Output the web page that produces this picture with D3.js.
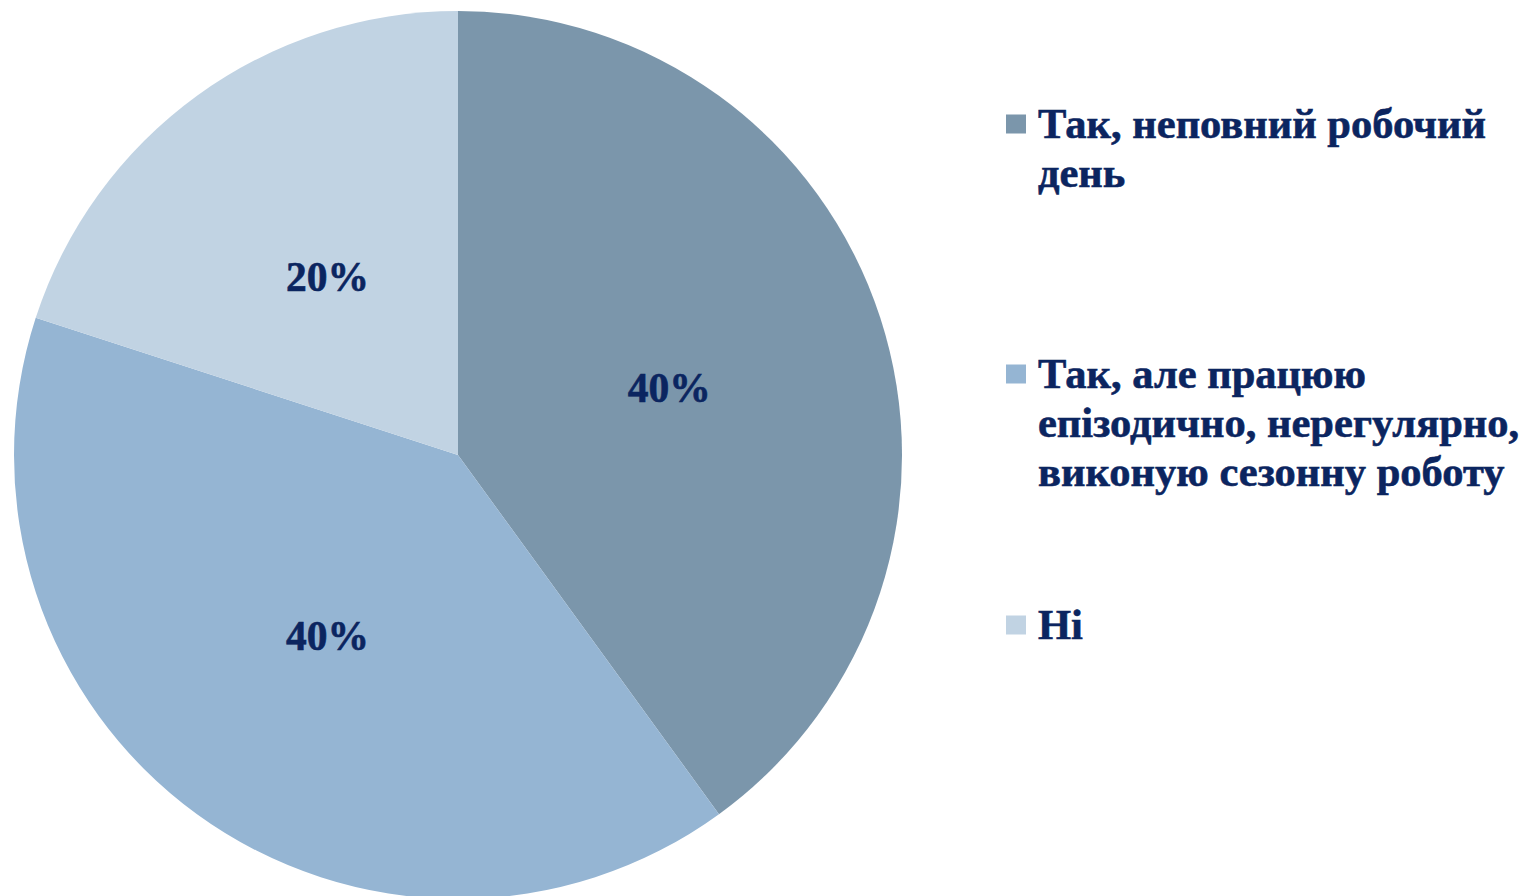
<!DOCTYPE html>
<html>
<head>
<meta charset="utf-8">
<script src="https://cdn.jsdelivr.net/npm/d3@7"></script>
<style>
  html, body { margin: 0; padding: 0; background: #ffffff; }
  svg { display: block; }
</style>
</head>
<body>
<svg id="chart" width="1527" height="896"></svg>
<script>
const categories = [
  ["Так, неповний робочий", "день"],
  ["Так, але працюю", "епізодично, нерегулярно,", "виконую сезонну роботу"],
  ["Ні"]
];
const values = [40, 40, 20];
const labels = ["40%", "40%", "20%"];
const colors = ["#7b96ab", "#95b5d3", "#c1d3e3"];

const svg = d3.select("#chart");
const cx = 458, cy = 455, R = 444;
const textColor = "#0b2560";
const font = "'Liberation Serif', 'Times New Roman', serif";

const data = values.map((v, i) => ({ v, i }));
const pie = d3.pie().value(d => d.v).sort(null);
const arc = d3.arc().innerRadius(0).outerRadius(R);
const arcs = pie(data);

const g = svg.append("g").attr("transform", `translate(${cx},${cy})`);
g.selectAll("path").data(arcs).join("path")
  .attr("d", arc)
  .attr("fill", d => colors[d.data.i]);

g.selectAll("text").data(arcs).join("text")
  .attr("transform", d => `translate(${arc.centroid(d)})`)
  .attr("text-anchor", "middle")
  .attr("dy", "0.37em")
  .attr("font-family", font)
  .attr("font-weight", "bold")
  .attr("font-size", 41.5)
  .attr("fill", textColor)
  .attr("stroke", textColor)
  .attr("stroke-width", 0.6)
  .text(d => labels[d.data.i]);

// Legend
const legendY = [124, 374, 625];
const lineH = 49;
const lg = svg.append("g");
categories.forEach((lines, i) => {
  const item = lg.append("g").attr("transform", `translate(1006,${legendY[i]})`);
  item.append("rect")
    .attr("x", 0).attr("y", -9.5).attr("width", 20).attr("height", 19)
    .attr("fill", colors[i]);
  const t = item.append("text")
    .attr("x", 32)
    .attr("y", 14)
    .attr("font-family", font)
    .attr("font-weight", "bold")
    .attr("font-size", 42.5)
    .attr("fill", textColor)
    .attr("stroke", textColor)
    .attr("stroke-width", 0.6);
  lines.forEach((ln, j) => {
    t.append("tspan").attr("x", 32).attr("y", 14 + j * lineH).text(ln);
  });
});
</script>
</body>
</html>
